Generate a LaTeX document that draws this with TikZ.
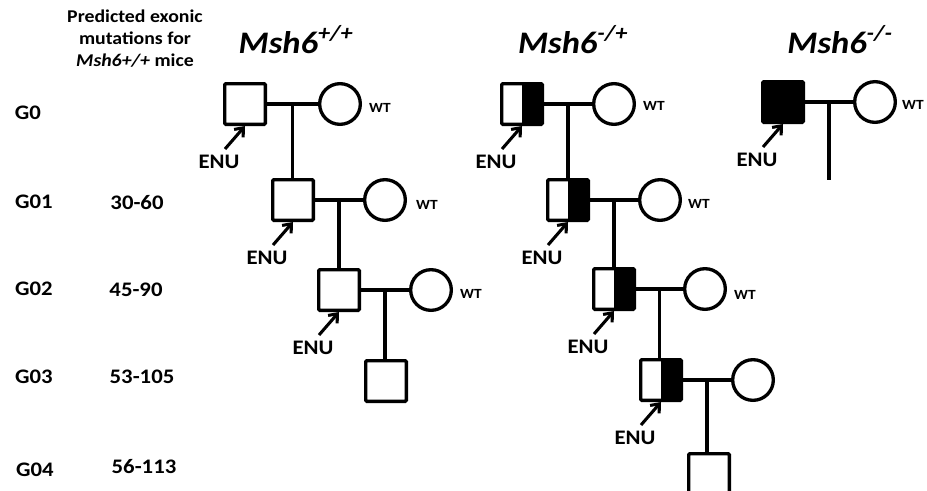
\documentclass[tikz,border=0pt]{standalone}
\usepackage{fontspec}
\setmainfont{Carlito}[FakeStretch=1.1]
\usetikzlibrary{calc,arrows.meta}
\begin{document}
\begin{tikzpicture}[x=0.75pt,y=-0.75pt,
 male/.style={draw,line width=2.5pt,rectangle,minimum size=30.5pt,inner sep=0pt,rounded corners=0.8pt},
 het/.style={male,path picture={\fill[black] (path picture bounding box.north) rectangle (path picture bounding box.south east);}},
 hom/.style={male,fill=black},
 female/.style={draw,line width=2.5pt,circle,minimum size=30.5pt,inner sep=0pt},
 wt/.style={font=\bfseries\fontsize{10.5}{12}\selectfont,inner sep=0pt},
 enu/.style={font=\bfseries\fontsize{15.5}{18}\selectfont,inner sep=0pt},
 gen/.style={font=\bfseries\fontsize{15.5}{18}\selectfont,inner sep=0pt},
 ttl/.style={font=\bfseries\itshape\fontsize{23.5}{28}\selectfont,inner sep=0pt,anchor=base},
 hdr/.style={font=\bfseries\fontsize{13.5}{16.5}\selectfont,inner sep=0pt,align=center},
 linkline/.style={line width=2.5pt},
 enuarrow/.style={line width=2.3pt,-{Straight Barb[length=5.5pt,width=9pt,line width=2.3pt]}},
]
\useasboundingbox (0,0) rectangle (927,490);

% left column
\node[hdr] (head) at (135,39) {Predicted exonic\\mutations for\\\textit{Msh6+/+} mice};
\node[gen] (g0) at (28,113) {G0};
\node[gen] (g1) at (34,202) {G01};
\node[gen] (g2) at (34,289) {G02};
\node[gen] (g3) at (34,377) {G03};
\node[gen] (g4) at (35,470) {G04};
\node[gen] (n1) at (137,203) {30-60};
\node[gen] (n2) at (136,290) {45-90};
\node[gen] (n3) at (142,377) {53-105};
\node[gen] (n4) at (144,467) {56-113};

% titles
\node[ttl] (tA) at (296,53) {Msh6\textsuperscript{+/+}};
\node[ttl] (tB) at (573,53) {Msh6\textsuperscript{-/+}};
\node[ttl] (tC) at (840,53) {Msh6\textsuperscript{-/-}};

% ---------- pedigree A ----------
\node[male] (A0) at (245,104) {};
\node[female] (A0w) at (340,104) {};
\node[wt] (A0wt) at (380,108) {WT};
\node[male] (A1) at (293,200) {};
\node[female] (A1w) at (385,200) {};
\node[wt] (A1wt) at (427,205) {WT};
\node[male] (A2) at (339,290) {};
\node[female] (A2w) at (431,290) {};
\node[wt] (A2wt) at (471,294) {WT};
\node[male] (A3) at (386,381) {};

\foreach \p/\c in {A0/A1,A1/A2,A2/A3}{
  \draw[linkline] (\p) -- (\p w);
  \coordinate (\p m) at ($(\p.east)!0.5!(\p w.west)$);
  \draw[linkline] (\p m) -- (\p m |- \c.north);
}

% ---------- pedigree B ----------
\node[het] (B0) at (522,104) {};
\node[female] (B0w) at (614,104) {};
\node[wt] (B0wt) at (654,106) {WT};
\node[het] (B1) at (568,200) {};
\node[female] (B1w) at (660,200) {};
\node[wt] (B1wt) at (699,204) {WT};
\node[het] (B2) at (614,289) {};
\node[female] (B2w) at (705,289) {};
\node[wt] (B2wt) at (745,295) {WT};
\node[het] (B3) at (661,380) {};
\node[female] (B3w) at (753,380) {};
\node[male] (B4) at (709,474) {};

\foreach \p/\c in {B0/B1,B1/B2,B2/B3,B3/B4}{
  \draw[linkline] (\p) -- (\p w);
  \coordinate (\p m) at ($(\p.east)!0.5!(\p w.west)$);
  \draw[linkline] (\p m) -- (\p m |- \c.north);
}

% ---------- pedigree C ----------
\node[hom] (C0) at (783,102) {};
\node[female] (C0w) at (875,102) {};
\node[wt] (C0wt) at (913,105) {WT};
\draw[linkline] (C0) -- (C0w);
\coordinate (C0m) at ($(C0.east)!0.5!(C0w.west)$);
\coordinate (C0end) at ($(C0m)+(0,78)$);
\draw[linkline] (C0m) -- (C0end);

% ---------- ENU labels and arrows ----------
\foreach \s in {A0,A1,A2,B0,B1,B2,B3,C0}{
  \node[enu] (\s e) at ($(\s)+(-26,58)$) {ENU};
  \coordinate (\s t) at ($(\s)+(-20,45)$);
  \draw[enuarrow] (\s t) -- (\s.south);
}
\end{tikzpicture}
\end{document}
